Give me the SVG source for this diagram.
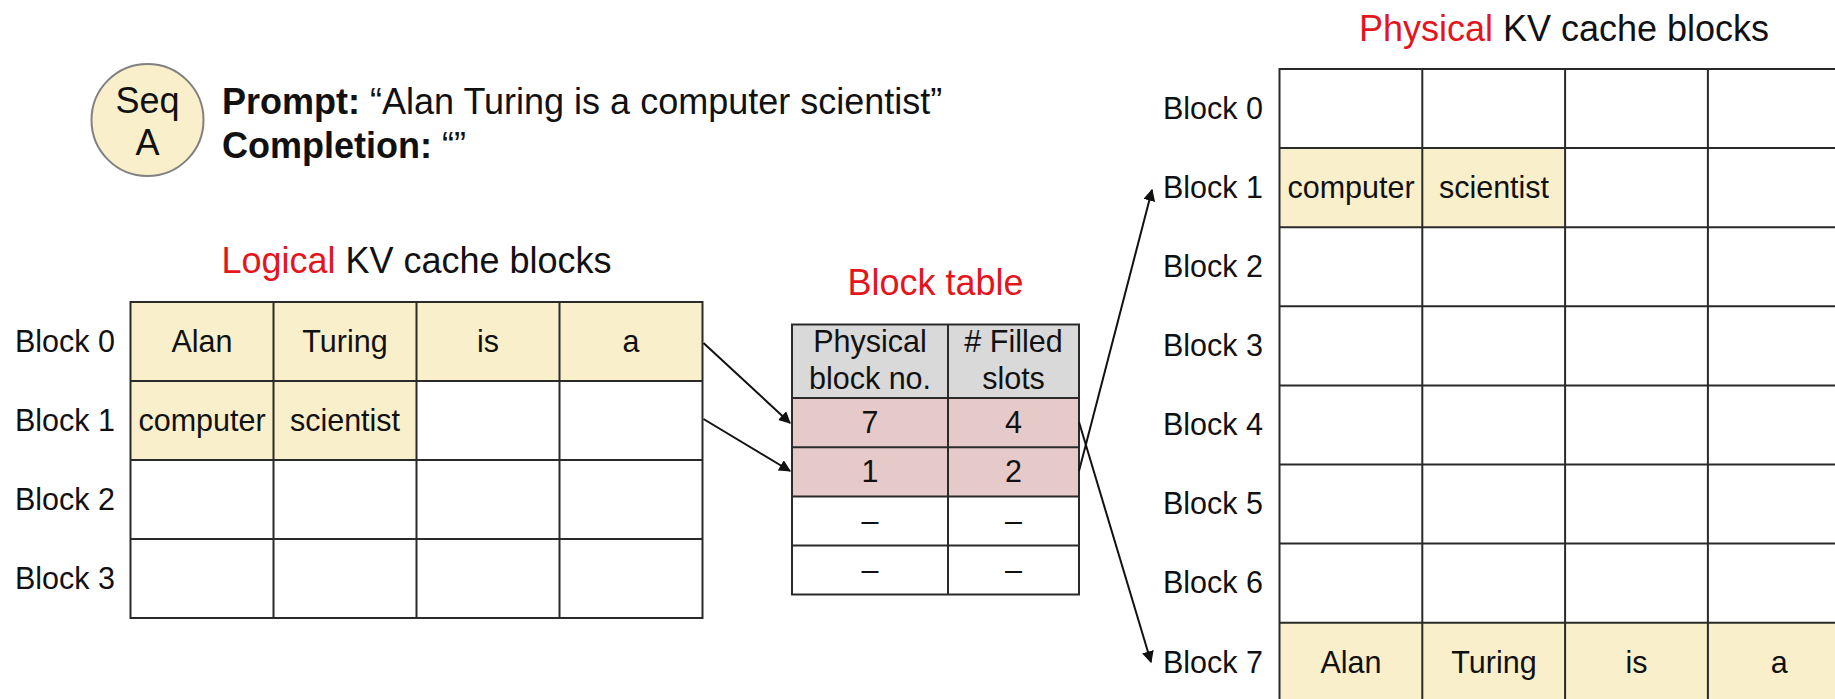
<svg xmlns="http://www.w3.org/2000/svg" width="1835" height="699" viewBox="0 0 1835 699">
<defs>
<style>
text{font-family:"Liberation Sans",Arial,sans-serif;fill:#111}
.t36{font-size:36px}
.t30{font-size:30.5px}
.c{text-anchor:middle}
.e{text-anchor:end}
.b{font-weight:bold}
.red{fill:#e3151d}
.y{fill:#faefcb}
.g{fill:#d9d9d9}
.p{fill:#e6c9c9}
.ln{stroke:#2a2a2a;stroke-width:2;fill:none}
.arr{stroke:#111;stroke-width:2;fill:none;marker-end:url(#ah)}
</style>
<marker id="ah" viewBox="0 0 10 10" refX="9" refY="5" markerWidth="6" markerHeight="6" orient="auto" markerUnits="strokeWidth">
<path d="M0,0 L10,5 L0,10 z" fill="#111"/>
</marker>
</defs>
<rect width="1835" height="699" fill="#ffffff"/>

<g id="seq">
<circle cx="147.5" cy="120" r="56" fill="#faefcb" stroke="#808080" stroke-width="2"/>
<text class="t36 c" x="147.5" y="113">Seq</text>
<text class="t36 c" x="147.5" y="155">A</text>
</g>
<g id="prompt">
<text class="t36" x="222" y="114"><tspan class="b">Prompt:</tspan> “Alan Turing is a computer scientist”</text>
<text class="t36" x="222" y="158"><tspan class="b">Completion:</tspan> “”</text>
</g>

<g id="logical">
<text class="t36 c" x="416.5" y="273"><tspan class="red">Logical</tspan> KV cache blocks</text>
<rect class="y" x="130.5" y="302" width="572" height="79"/>
<rect class="y" x="130.5" y="381" width="286" height="79"/>
<g class="ln">
<rect x="130.5" y="302" width="572" height="316"/>
<line x1="130.5" y1="381" x2="702.5" y2="381"/>
<line x1="130.5" y1="460" x2="702.5" y2="460"/>
<line x1="130.5" y1="539" x2="702.5" y2="539"/>
<line x1="273.5" y1="302" x2="273.5" y2="618"/>
<line x1="416.5" y1="302" x2="416.5" y2="618"/>
<line x1="559.5" y1="302" x2="559.5" y2="618"/>
</g>
<text class="t30 e" x="115" y="352">Block 0</text>
<text class="t30 e" x="115" y="431">Block 1</text>
<text class="t30 e" x="115" y="510">Block 2</text>
<text class="t30 e" x="115" y="589">Block 3</text>
<text class="t30 c" x="202" y="352">Alan</text>
<text class="t30 c" x="345" y="352">Turing</text>
<text class="t30 c" x="488" y="352">is</text>
<text class="t30 c" x="631" y="352">a</text>
<text class="t30 c" x="202" y="431">computer</text>
<text class="t30 c" x="345" y="431">scientist</text>
</g>

<g id="blocktable">
<text class="t36 c red" x="935.5" y="295">Block table</text>
<rect class="g" x="792" y="324.5" width="287" height="73.5"/>
<rect class="p" x="792" y="398" width="287" height="98.5"/>
<g class="ln">
<rect x="792" y="324.5" width="287" height="270"/>
<line x1="792" y1="398" x2="1079" y2="398"/>
<line x1="792" y1="447.3" x2="1079" y2="447.3"/>
<line x1="792" y1="496.5" x2="1079" y2="496.5"/>
<line x1="792" y1="545.5" x2="1079" y2="545.5"/>
<line x1="948" y1="324.5" x2="948" y2="594.5"/>
</g>
<text class="t30 c" x="870" y="352">Physical</text>
<text class="t30 c" x="870" y="389">block no.</text>
<text class="t30 c" x="1013.5" y="352"># Filled</text>
<text class="t30 c" x="1013.5" y="389">slots</text>
<text class="t30 c" x="870" y="433">7</text>
<text class="t30 c" x="1013.5" y="433">4</text>
<text class="t30 c" x="870" y="482">1</text>
<text class="t30 c" x="1013.5" y="482">2</text>
<text class="t30 c" x="870" y="531">–</text>
<text class="t30 c" x="1013.5" y="531">–</text>
<text class="t30 c" x="870" y="580">–</text>
<text class="t30 c" x="1013.5" y="580">–</text>
</g>

<g id="physical">
<text class="t36 c" x="1564" y="41"><tspan class="red">Physical</tspan> KV cache blocks</text>
<rect class="y" x="1279.5" y="148.1" width="285.6" height="79.1"/>
<rect class="y" x="1279.5" y="622.7" width="571.2" height="79.1"/>
<g class="ln">
<rect x="1279.5" y="69" width="571.2" height="632.8"/>
<line x1="1279.5" y1="148.1" x2="1850.7" y2="148.1"/>
<line x1="1279.5" y1="227.2" x2="1850.7" y2="227.2"/>
<line x1="1279.5" y1="306.3" x2="1850.7" y2="306.3"/>
<line x1="1279.5" y1="385.4" x2="1850.7" y2="385.4"/>
<line x1="1279.5" y1="464.5" x2="1850.7" y2="464.5"/>
<line x1="1279.5" y1="543.6" x2="1850.7" y2="543.6"/>
<line x1="1279.5" y1="622.7" x2="1850.7" y2="622.7"/>
<line x1="1422.3" y1="69" x2="1422.3" y2="701.8"/>
<line x1="1565.1" y1="69" x2="1565.1" y2="701.8"/>
<line x1="1707.9" y1="69" x2="1707.9" y2="701.8"/>
</g>
<text class="t30 e" x="1263" y="119">Block 0</text>
<text class="t30 e" x="1263" y="198">Block 1</text>
<text class="t30 e" x="1263" y="277">Block 2</text>
<text class="t30 e" x="1263" y="356">Block 3</text>
<text class="t30 e" x="1263" y="435">Block 4</text>
<text class="t30 e" x="1263" y="514">Block 5</text>
<text class="t30 e" x="1263" y="593">Block 6</text>
<text class="t30 e" x="1263" y="673">Block 7</text>
<text class="t30 c" x="1351" y="198">computer</text>
<text class="t30 c" x="1494" y="198">scientist</text>
<text class="t30 c" x="1351" y="673">Alan</text>
<text class="t30 c" x="1494" y="673">Turing</text>
<text class="t30 c" x="1636.5" y="673">is</text>
<text class="t30 c" x="1779.3" y="673">a</text>
</g>

<g id="connectors">
<line class="arr" x1="703.5" y1="343" x2="790" y2="423"/>
<line class="arr" x1="703.5" y1="419" x2="790" y2="471"/>
<line class="arr" x1="1079" y1="422" x2="1151" y2="662"/>
<line class="arr" x1="1079" y1="471" x2="1152" y2="190"/>
</g>
</svg>
